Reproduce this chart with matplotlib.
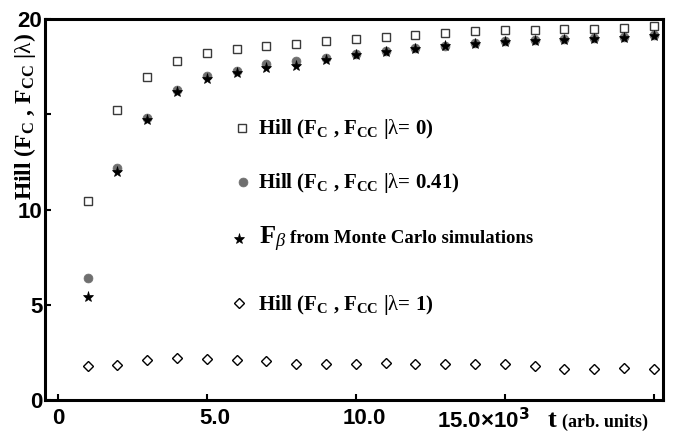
import matplotlib
matplotlib.use("Agg")
import matplotlib.pyplot as plt
from matplotlib.transforms import ScaledTranslation

plt.rcParams['mathtext.fontset'] = 'custom'
plt.rcParams['mathtext.rm'] = 'Liberation Serif:bold'
plt.rcParams['mathtext.bf'] = 'Liberation Serif:bold'
plt.rcParams['mathtext.it'] = 'Liberation Serif:italic'
plt.rcParams['mathtext.sf'] = 'Liberation Serif'

# ---- data ----
t = [1000, 2000, 3000, 4000, 5000, 6000, 7000, 8000, 9000, 10000,
     11000, 12000, 13000, 14000, 15000, 16000, 17000, 18000, 19000, 20000]
hill_l0 = [10.43, 15.24, 16.96, 17.80, 18.20, 18.45, 18.60, 18.67, 18.83, 18.97,
           19.06, 19.18, 19.27, 19.36, 19.41, 19.41, 19.45, 19.48, 19.53, 19.62]
hill_l041 = [6.41, 12.17, 14.80, 16.28, 17.00, 17.25, 17.64, 17.80, 17.96, 18.15,
             18.30, 18.47, 18.60, 18.72, 18.83, 18.90, 18.97, 19.00, 19.03, 19.16]
f_beta_mc = [5.40, 11.99, 14.72, 16.15, 16.85, 17.15, 17.43, 17.52, 17.87, 18.10,
             18.25, 18.43, 18.57, 18.69, 18.80, 18.83, 18.92, 18.97, 19.00, 19.13]
hill_l1 = [1.76, 1.85, 2.08, 2.22, 2.17, 2.08, 2.03, 1.87, 1.87, 1.89,
           1.94, 1.87, 1.87, 1.90, 1.87, 1.76, 1.64, 1.64, 1.70, 1.64]

xticks = [0, 5000, 10000, 15000, 20000]
xticklabels = ['0', '5.0', '10.0', r'15.0×10$^{\mathbf{3}}$', '']
yticks = [0, 5, 10, 15, 20]
yticklabels = ['0', '5', '10', '', '20']

labels = [r'Hill (F$_\mathrm{C}$ , F$_\mathrm{CC}$ |$\mathsf{\lambda}$= 0)',
          r'Hill (F$_\mathrm{C}$ , F$_\mathrm{CC}$ |$\mathsf{\lambda}$= 0.41)',
          r'from Monte Carlo simulations',
          r'Hill (F$_\mathrm{C}$ , F$_\mathrm{CC}$ |$\mathsf{\lambda}$= 1)']
ylabel = r'Hill (F$_\mathrm{C}$ , F$_\mathrm{CC}$ |$\mathsf{\lambda}$)'

W, H = 677, 433
fig = plt.figure(figsize=(W / 100, H / 100), dpi=100)
ax = fig.add_axes([45 / W, 1 - 400 / H, 618 / W, 381 / H])

sq = dict(marker='s', ls='none', ms=5.8, mfc='white', mec='#3a3a3a', mew=1.0)
ci = dict(marker='o', ls='none', ms=6.4, mfc='#6f6f6f', mec='#6f6f6f', mew=0.5)
st = dict(marker='*', ls='none', ms=8.0, mfc='black', mec='black', mew=0.5)
di = dict(marker='D', ls='none', ms=5.0, mfc='white', mec='black', mew=1.0)

ax.plot(t, hill_l0, **sq)
ax.plot(t, hill_l041, **ci)
ax.plot(t, f_beta_mc, **st)
ax.plot(t, hill_l1, **di)

ax.set_xlim(-430, 20310)
ax.set_ylim(0, 20)
ax.set_xticks(xticks)
ax.set_xticklabels(xticklabels)
ax.set_yticks(yticks)
ax.set_yticklabels(yticklabels)
ax.tick_params(direction='in', length=4, width=1.5, labelsize=16)
ax.tick_params(axis='x', pad=6)
ax.tick_params(axis='y', pad=2)
for lab in ax.get_xticklabels() + ax.get_yticklabels():
    lab.set_fontfamily('Liberation Sans')
    lab.set_fontweight('bold')
    lab.set_math_fontfamily('dejavusans')
for sp in ax.spines.values():
    sp.set_linewidth(2.2)

# shift some x tick labels to match reference placement
offs = [0, 8, 9, -21, 0]
for lab, o in zip(ax.get_xticklabels(), offs):
    lab.set_transform(lab.get_transform() + ScaledTranslation(o / 100, 0, fig.dpi_scale_trans))

def fx(px):
    return px / W

def fy(py):
    return 1 - py / H

# in-plot legend
mk = [sq, ci, st, di]
mpos = [(242, 128), (243, 182), (239, 239), (239, 303)]
for m, (px, py) in zip(mk, mpos):
    ax.plot([fx(px)], [fy(py)], transform=fig.transFigure, clip_on=False, **m)

serif = dict(family='Liberation Serif', weight='bold')
fig.text(fx(258), fy(134), labels[0], fontsize=15, va='baseline', ha='left', **serif)
fig.text(fx(258), fy(188), labels[1], fontsize=15, va='baseline', ha='left', **serif)
fig.text(fx(259), fy(244), r'F$_{\mathit{\beta}}$', fontsize=19, va='baseline', ha='left', **serif)
fig.text(fx(290), fy(243), labels[2], fontsize=13.5, va='baseline', ha='left', **serif)
fig.text(fx(258), fy(310), labels[3], fontsize=15, va='baseline', ha='left', **serif)

# y label
fig.text(fx(25), fy(116), ylabel, fontsize=17, rotation=90, ha='center', va='center', **serif)

# x label
fig.text(fx(548), fy(427), 't', fontsize=19, va='baseline', ha='left', **serif)
fig.text(fx(562), fy(427), '(arb. units)', fontsize=13, va='baseline', ha='left', **serif)

fig.savefig('out.png', dpi=100)
